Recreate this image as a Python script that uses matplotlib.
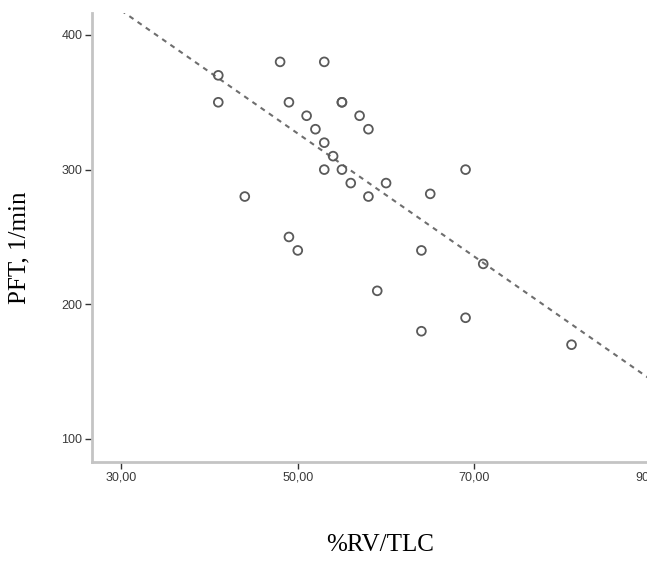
import numpy as np
import matplotlib
matplotlib.use("Agg")
import matplotlib.pyplot as plt

# %RV/TLC against peak flow
rv_tlc = [41, 41, 48, 53, 49, 55, 55, 51, 57, 52, 58, 53, 54, 53, 55, 56, 58,
          44, 49, 50, 60, 65, 69, 64, 71, 59, 69, 64, 81]
pft = [370, 350, 380, 380, 350, 350, 350, 340, 340, 330, 330, 320, 310, 300,
       300, 290, 280, 280, 250, 240, 290, 282, 300, 240, 230, 210, 190, 180, 170]

# reported linear fit: PFT = intercept + slope * %RV/TLC
fit_intercept = 555.3
fit_slope = -4.57

x_ticks = [30, 50, 70, 90]
x_tick_labels = ["30,00", "50,00", "70,00", "90,00"]
y_ticks = [100, 200, 300, 400]

fig = plt.figure(figsize=(6.47, 5.72), dpi=100)
# the plot area runs a little past the right edge of the figure
ax = fig.add_axes([0.1422, 0.1923, 0.864, 0.785])

xlim = (26.7, 90.0)
ylim = (82.9, 416.3)
ax.set_xlim(*xlim)
ax.set_ylim(*ylim)

ax.scatter(rv_tlc, pft, s=40, facecolors="none", edgecolors="#5a5a5a",
           linewidths=1.3, zorder=3)

xs = np.array(xlim)
ax.plot(xs, fit_intercept + fit_slope * xs, linestyle=(0, (2.4, 2.4)),
        color="#6e6e6e", linewidth=1.5, zorder=2)

for side in ("top", "right"):
    ax.spines[side].set_visible(False)
for side in ("left", "bottom"):
    ax.spines[side].set_color("#c4c4c4")
    ax.spines[side].set_linewidth(2.0)

ax.set_xticks(x_ticks)
ax.set_xticklabels(x_tick_labels)
ax.set_yticks(y_ticks)
ax.tick_params(axis="both", direction="out", length=5, width=1.0,
               color="#333333", labelsize=9, labelcolor="#3a3a3a", pad=2)
for lab in ax.get_xticklabels() + ax.get_yticklabels():
    lab.set_fontfamily("Liberation Sans")

fig.text(0.03, 0.566, "PFT, 1/min", rotation=90, ha="center", va="center",
         fontsize=18, family="Liberation Serif")
fig.text(0.587, 0.047, "%RV/TLC", ha="center", va="center",
         fontsize=18, family="Liberation Serif")

fig.savefig("out.png", dpi=100)
